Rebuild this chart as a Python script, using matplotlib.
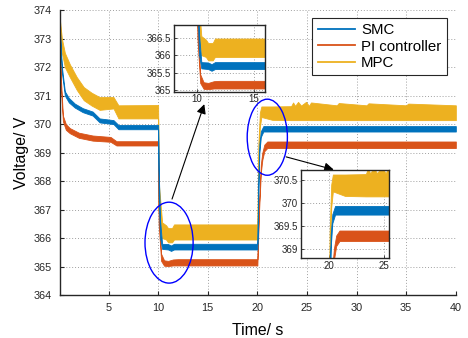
import matplotlib
matplotlib.use('Agg')
import numpy as np
from matplotlib import pyplot as plt
from matplotlib.patches import Ellipse
from matplotlib.lines import Line2D

plt.rcParams['font.family'] = ['Liberation Sans', 'DejaVu Sans']

# band edges (lower / upper), time in s, voltage in V
t_smc = [0, 0.3, 0.6, 1.0, 1.6, 2.4, 3.4, 4.1, 5.5, 6.0, 10.0, 10.05, 10.2, 10.4,
         11.0, 11.3, 11.6, 20.0, 20.1, 20.2, 20.35, 20.6, 40.0]
smc_hi = [374.0, 372.0, 371.15, 370.92, 370.72, 370.56, 370.44, 370.2, 370.14, 369.97, 369.97,
          368.5, 366.6, 365.8, 365.79, 365.74, 365.8, 365.8, 368.1, 369.3, 369.75, 369.93, 369.93]
smc_lo = [373.8, 371.8, 371.0, 370.76, 370.58, 370.42, 370.3, 370.06, 370.0, 369.82, 369.82,
          367.5, 366.0, 365.62, 365.6, 365.55, 365.6, 365.6, 367.6, 369.0, 369.55, 369.74, 369.74]

t_pi = [0, 0.2, 0.4, 0.7, 1.1, 2.0, 3.4, 5.2, 5.8, 10.0, 10.05, 10.3, 10.6, 11.0, 11.5,
        12.0, 20.0, 20.15, 20.35, 20.5, 20.7, 21.0, 40.0]
pi_hi = [374.0, 371.6, 370.3, 370.0, 369.86, 369.7, 369.6, 369.55, 369.4, 369.4, 367.0,
         365.45, 365.22, 365.2, 365.25, 365.26, 365.26, 367.1, 368.6, 369.0, 369.28, 369.39, 369.39]
pi_lo = [373.8, 371.3, 370.1, 369.8, 369.68, 369.52, 369.42, 369.38, 369.25, 369.25, 366.5,
         365.2, 365.03, 365.02, 365.04, 365.04, 365.04, 366.8, 368.3, 368.75, 369.05, 369.16, 369.16]

t_mpc = [0, 0.3, 0.6, 1.1, 1.8, 2.5, 3.3, 4.1, 5.5, 6.0, 10.0, 10.05, 10.4, 10.8, 11.0,
         11.4, 11.6, 20.0, 20.1, 20.25, 20.4, 21.5, 23.4, 23.6, 23.8, 24.1, 24.4, 24.9,
         25.2, 25.4, 28.0, 28.2, 31.0, 31.2, 35.0, 35.2, 40.0]
mpc_hi = [374.0, 373.0, 372.5, 372.1, 371.65, 371.3, 371.1, 370.95, 370.95, 370.66, 370.67,
          368.0, 366.55, 366.45, 366.35, 366.35, 366.48, 366.48, 369.3, 370.4, 370.62, 370.62,
          370.63, 370.76, 370.64, 370.78, 370.65, 370.78, 370.64, 370.76, 370.66, 370.74,
          370.66, 370.73, 370.66, 370.72, 370.66]
mpc_lo = [373.85, 372.5, 372.0, 371.65, 371.2, 370.84, 370.65, 370.5, 370.55, 370.2, 370.2,
          367.0, 366.0, 365.95, 365.85, 365.85, 365.95, 365.95, 368.5, 369.9, 370.25, 370.15,
          370.14, 370.14, 370.14, 370.14, 370.14, 370.14, 370.14, 370.14, 370.14, 370.14,
          370.14, 370.14, 370.14, 370.14, 370.14]

labels = ['SMC', 'PI controller', 'MPC']
colors = ['#0072BD', '#D95319', '#EDB120']

series = [(t_mpc, mpc_lo, mpc_hi, colors[2]),
          (t_pi, pi_lo, pi_hi, colors[1]),
          (t_smc, smc_lo, smc_hi, colors[0])]

grid_kw = dict(color='#a0a0a0', linestyle=(0, (1, 2)), linewidth=0.7)


def draw_bands(ax):
    for t, lo, hi, c in series:
        ax.fill_between(t, lo, hi, color=c, linewidth=0.6, edgecolor=c, zorder=2)


fig = plt.figure(figsize=(4.68, 3.38), dpi=100)
ax = fig.add_axes([0.128, 0.127, 0.846, 0.843])
draw_bands(ax)
ax.set_xlim(0.1, 40)
ax.set_ylim(364, 374)
ax.set_xticks([5, 10, 15, 20, 25, 30, 35, 40])
ax.set_yticks(np.arange(364, 375, 1))
ax.grid(True, **grid_kw)
ax.set_axisbelow(True)
for s in ['top', 'right']:
    ax.spines[s].set_visible(False)
for s in ['left', 'bottom']:
    ax.spines[s].set_color('#262626')
    ax.spines[s].set_linewidth(1.0)
ax.tick_params(direction='in', length=3, width=0.8, colors='#262626', labelsize=7.8, pad=6)
ax.set_xlabel('Time/ s', fontsize=11.4, labelpad=7)
ax.set_ylabel('Voltage/ V', fontsize=11.4, labelpad=3)

# ellipses marking the zoomed parts
ax.add_patch(Ellipse((11.1, 365.84), 4.85, 2.84, fill=False, edgecolor='#0000ff', lw=1.0, zorder=4))
ax.add_patch(Ellipse((21.0, 369.54), 4.05, 2.67, fill=False, edgecolor='#0000ff', lw=1.0, zorder=4))

arrow_kw = dict(arrowstyle='-|>', color='k', lw=0.8, mutation_scale=14, shrinkA=0, shrinkB=0)
ax.annotate('', xy=(14.65, 370.7), xytext=(11.4, 367.37), arrowprops=arrow_kw, zorder=5)
ax.annotate('', xy=(27.7, 368.4), xytext=(22.9, 368.85), arrowprops=arrow_kw, zorder=5)

handles = [Line2D([], [], color=c, lw=1.3) for c in colors]
leg = ax.legend(handles, labels, loc='upper right', bbox_to_anchor=(0.977, 0.972),
                borderaxespad=0, fontsize=10.8, handlelength=2.5, handletextpad=0.4,
                labelspacing=0.15, borderpad=0.35, fancybox=False, framealpha=1)
leg.get_frame().set_edgecolor('#262626')
leg.get_frame().set_linewidth(0.8)


def make_inset(rect, xlim, ylim, xticks, yticks, ylabels):
    ins = fig.add_axes(rect)
    draw_bands(ins)
    ins.set_xlim(*xlim)
    ins.set_ylim(*ylim)
    ins.set_xticks(xticks)
    ins.set_yticks(yticks)
    ins.set_yticklabels(ylabels)
    ins.grid(True, **grid_kw)
    ins.set_axisbelow(True)
    for s in ins.spines.values():
        s.set_color('#262626')
        s.set_linewidth(1.0)
    ins.tick_params(direction='in', length=2, width=0.6, colors='#262626', labelsize=7, pad=2)
    return ins


make_inset([0.372, 0.729, 0.194, 0.197], (8, 16), (364.95, 366.87), [10, 15],
           [365, 365.5, 366, 366.5], ['365', '365.5', '366', '366.5'])
make_inset([0.643, 0.237, 0.188, 0.260], (17.45, 25.45), (368.8, 370.73), [20, 25],
           [369, 369.5, 370, 370.5], ['369', '369.5', '370', '370.5'])

fig.savefig('out.png', dpi=100)
